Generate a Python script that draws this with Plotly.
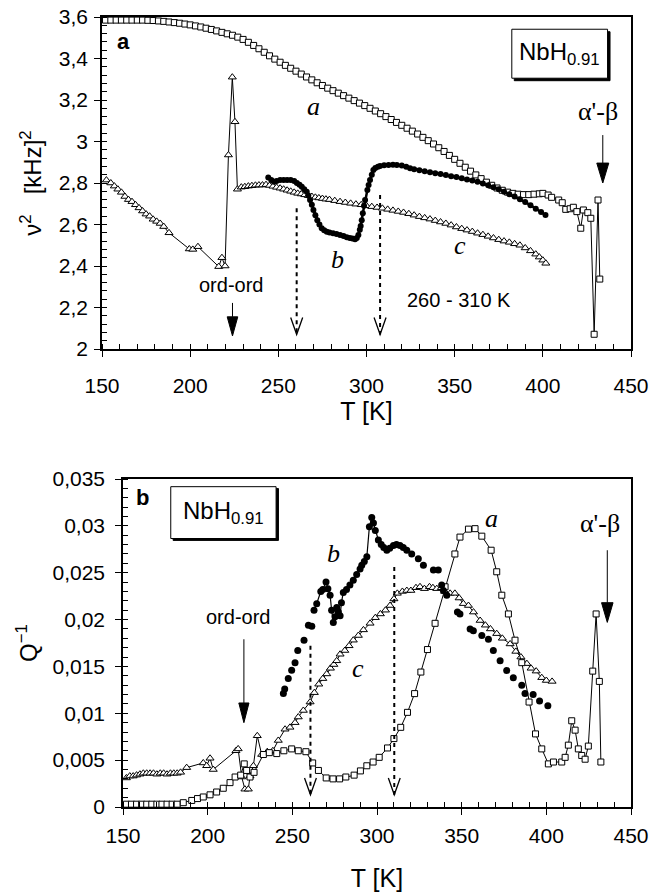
import plotly.graph_objects as go

# ---------------- top panel (v^2) ----------------
top_a_T = [152, 155, 158, 161, 164, 167, 170, 173, 176, 179, 182, 185, 188, 191, 194, 197, 200, 203, 206, 209,
           212, 215, 218, 221, 224, 227, 230, 233, 236, 239, 242, 245, 248, 251, 254, 257, 260, 263, 266, 269,
           272, 275, 278, 281, 284, 287, 290, 293, 296, 299, 302, 305, 308, 311, 314, 317, 320, 323, 326, 329,
           332, 335, 338, 341, 344, 347, 350, 353, 356, 359, 362, 365, 368, 371, 374, 377, 380, 383, 386, 389,
           392, 395, 398, 400, 403, 405, 409, 411, 413, 415.5, 417.3, 419.3, 421.5, 423, 425.5, 427.2, 429.1,
           431.3, 432.3]
top_a_v = [3.585, 3.585, 3.585, 3.585, 3.585, 3.585, 3.585, 3.585, 3.584, 3.583, 3.581, 3.579, 3.576, 3.573,
           3.570, 3.566, 3.562, 3.557, 3.552, 3.546, 3.540, 3.533, 3.526, 3.519, 3.512, 3.503, 3.492, 3.478,
           3.463, 3.447, 3.430, 3.413, 3.397, 3.382, 3.367, 3.353, 3.339, 3.325, 3.311, 3.297, 3.283, 3.270,
           3.257, 3.245, 3.233, 3.221, 3.209, 3.197, 3.185, 3.173, 3.160, 3.147, 3.134, 3.120, 3.106, 3.092,
           3.078, 3.064, 3.050, 3.036, 3.020, 3.004, 2.988, 2.970, 2.952, 2.933, 2.914, 2.895, 2.876, 2.857,
           2.839, 2.821, 2.804, 2.789, 2.776, 2.765, 2.756, 2.750, 2.746, 2.744, 2.744, 2.746, 2.748, 2.750,
           2.742, 2.731, 2.718, 2.705, 2.673, 2.676, 2.683, 2.662, 2.582, 2.670, 2.657, 2.630, 2.071, 2.718,
           2.337]

top_b_T = [244.3, 246, 247.5, 249, 251, 253, 255, 257, 259, 260.5, 262, 263.3, 264.7, 266.1, 267, 268, 269,
           269.9, 271, 272.1, 273.3, 274.6, 276, 277.5, 279, 281, 283, 285, 287, 288.8, 290.5, 292, 293.5,
           294.5, 295.4, 296.2, 296.7, 297.3, 297.9, 298.6, 299.2, 300.5, 301.2, 302, 303, 303.9, 305, 306.5,
           307.7, 310, 312.5, 315, 317.2, 320, 322.5, 324.7, 327, 330, 333, 336, 339, 342, 345, 348, 351, 354,
           357, 360, 363, 366, 369, 372, 375, 378, 381, 384, 387, 390, 393, 396, 399, 401.5]
top_b_v = [2.827, 2.815, 2.806, 2.810, 2.814, 2.815, 2.815, 2.814, 2.810, 2.800, 2.792, 2.782, 2.770, 2.758,
           2.740, 2.718, 2.695, 2.670, 2.645, 2.620, 2.600, 2.582, 2.572, 2.565, 2.562, 2.558, 2.554, 2.550,
           2.545, 2.538, 2.535, 2.532, 2.529, 2.535, 2.550, 2.575, 2.593, 2.620, 2.654, 2.690, 2.718, 2.766,
           2.790, 2.814, 2.840, 2.863, 2.872, 2.878, 2.882, 2.885, 2.887, 2.888, 2.887, 2.884, 2.878, 2.871,
           2.866, 2.862, 2.857, 2.852, 2.847, 2.843, 2.838, 2.833, 2.829, 2.823, 2.817, 2.812, 2.806, 2.797,
           2.789, 2.780, 2.770, 2.758, 2.746, 2.735, 2.722, 2.708, 2.693, 2.676, 2.660, 2.646]

top_c_T = [152.5, 155, 157, 159, 161, 163, 165, 167, 169, 171, 173, 175, 177, 179, 181, 183, 185, 188, 199.5,
           201.5, 204.4, 216.2, 218, 219.8, 221.7, 223.9, 225.4, 226.8, 229, 231, 233, 235, 237, 239, 241, 243,
           245, 247, 249, 251, 253, 255, 257, 259, 261, 263, 265, 267, 269, 271, 273, 275, 277, 279, 282, 285,
           288, 291, 294, 297, 300, 303, 306, 309, 312, 315, 318, 321, 324, 327, 330, 333, 336, 339, 342, 345,
           348, 351, 354, 357, 360, 363, 366, 369, 372, 375, 378, 381, 384, 387, 390, 393, 396, 398, 400, 401.7]
top_c_v = [2.814, 2.800, 2.785, 2.770, 2.755, 2.735, 2.720, 2.710, 2.695, 2.680, 2.665, 2.650, 2.640, 2.625,
           2.615, 2.605, 2.590, 2.560, 2.482, 2.480, 2.493, 2.397, 2.440, 2.400, 2.935, 3.310, 3.095, 2.770,
           2.780, 2.782, 2.785, 2.787, 2.789, 2.790, 2.790, 2.792, 2.788, 2.784, 2.779, 2.775, 2.770, 2.765,
           2.760, 2.755, 2.750, 2.747, 2.743, 2.739, 2.735, 2.731, 2.728, 2.725, 2.722, 2.720, 2.715, 2.710,
           2.706, 2.702, 2.698, 2.695, 2.690, 2.686, 2.682, 2.678, 2.673, 2.668, 2.663, 2.658, 2.652, 2.645,
           2.638, 2.632, 2.626, 2.619, 2.612, 2.605, 2.597, 2.588, 2.580, 2.573, 2.566, 2.558, 2.551, 2.543,
           2.535, 2.527, 2.520, 2.514, 2.507, 2.500, 2.487, 2.473, 2.457, 2.443, 2.428, 2.413]

# ---------------- bottom panel (Q^-1) ----------------
bot_a_T = [152, 155, 158, 161, 164, 167, 170, 173, 176, 179, 182, 185.6, 190.6, 194, 197.4, 201.4, 205.3,
           209.2, 213.2, 216.2, 219.5, 221.6, 223, 225, 227.4, 232.9, 236.4, 240.8, 245, 249.6, 253.5, 258,
           262, 265.4, 270, 274, 277.9, 281.6, 286.5, 290.2, 294, 297.7, 301.3, 306.2, 310, 314, 318, 322.2,
           325.9, 329.8, 334.3, 340.2, 346, 349, 354, 357.9, 361.9, 367.4, 370.7, 373.7, 377.6, 381.5, 385.5,
           389.8, 393.6, 397.3, 401.2, 404.2, 409.1, 411.1, 413, 415, 417, 418.9, 420.9, 422.9, 424.8, 427.4,
           429.4, 431.3, 432.2]
bot_a_Q = [0.0003, 0.0003, 0.0003, 0.0003, 0.0003, 0.0003, 0.0003, 0.0003, 0.0003, 0.0003, 0.0003, 0.00046,
           0.0007, 0.0009, 0.00107, 0.0013, 0.0016, 0.002, 0.0026, 0.0032, 0.0034, 0.0046, 0.0039, 0.0032,
           0.0037, 0.0056, 0.0058, 0.0057, 0.006, 0.0062, 0.006, 0.0059, 0.0047, 0.0039, 0.0031, 0.003, 0.003,
           0.0032, 0.0034, 0.00385, 0.0044, 0.0048, 0.0053, 0.0063, 0.0073, 0.0085, 0.0101, 0.0121, 0.0144,
           0.0168, 0.0196, 0.0235, 0.027, 0.0288, 0.02965, 0.0297, 0.0289, 0.0274, 0.0251, 0.0226, 0.0206,
           0.0178, 0.0154, 0.0112, 0.0078, 0.0062, 0.0046, 0.0048, 0.0048, 0.0053, 0.0066, 0.0092, 0.0082,
           0.0062, 0.0055, 0.0051, 0.0065, 0.0145, 0.0206, 0.0134, 0.0048]

bot_b_T = [244.7, 245.5, 247.6, 249.6, 251.6, 253.2, 256.9, 259.5, 261.5, 262.8, 264.4, 266.8, 268, 269.9,
           271, 272.3, 273.2, 274.2, 275.2, 276.2, 277.2, 278.2, 279, 280.1, 282, 284, 286, 288, 290, 291,
           292.5, 294, 295.5, 296.9, 297.9, 299, 300.8, 302.5, 304, 305.8, 307.5, 309.7, 311.5, 313.6, 315.5,
           317.6, 320.5, 324.4, 327.4, 333.3, 336.2, 338.2, 339.2, 341.2, 347.5, 349, 355, 356.9, 361.9, 365.8,
           368.7, 372.7, 376.6, 380.5, 385.5, 387.4, 392.2, 396, 400.9]
bot_b_Q = [0.0121, 0.0126, 0.0137, 0.0146, 0.0154, 0.0167, 0.0178, 0.0194, 0.0193, 0.021, 0.0217, 0.023,
           0.0232, 0.024, 0.0233, 0.0226, 0.021, 0.0197, 0.0203, 0.0213, 0.0208, 0.0204, 0.0218, 0.0229,
           0.0232, 0.0237, 0.0242, 0.0248, 0.0254, 0.0258, 0.0262, 0.0267, 0.0299, 0.0309, 0.0303, 0.0295,
           0.0285, 0.028, 0.0277, 0.0274, 0.0276, 0.0279, 0.028, 0.0279, 0.0277, 0.0274, 0.027, 0.0265, 0.0258,
           0.0253, 0.0253, 0.0237, 0.0231, 0.0226, 0.0208, 0.0206, 0.019, 0.0188, 0.0183, 0.0179, 0.0167,
           0.0156, 0.01456, 0.0138, 0.013, 0.0121, 0.012, 0.0113, 0.0108]

bot_c_T = [152, 154, 156, 158, 160, 162, 164, 166, 168, 170, 172, 174, 176, 178, 180, 182, 184, 187.6, 197.4,
           199.4, 201.4, 203.3, 216.7, 218, 220.1, 222, 224, 225, 227, 229.3, 231.9, 235.2, 238.5, 241.7,
           245.7, 248.6, 251.6, 253.5, 256.5, 260.5, 263, 265.6, 268, 270.3, 272.5, 274.5, 276.2, 278.2, 281,
           283.5, 286, 289, 292, 295.9, 299, 302, 305, 307.7, 310, 312, 315, 317.6, 320, 323, 325.4, 328, 331,
           333, 335.3, 338, 340, 343.2, 346, 348.5, 351, 354, 357, 360.9, 364, 367, 370.7, 374, 378.6, 382,
           385, 388.5, 391, 394, 397.3, 400, 403.4]
bot_c_Q = [0.0031, 0.0033, 0.0033, 0.0034, 0.0035, 0.0036, 0.0036, 0.0036, 0.0036, 0.0035, 0.0036, 0.0036,
           0.0035, 0.0036, 0.0036, 0.0036, 0.0037, 0.0042, 0.0047, 0.0044, 0.0052, 0.004, 0.006, 0.0062,
           0.0032, 0.0019, 0.0019, 0.0033, 0.0044, 0.0076, 0.0056, 0.0059, 0.006, 0.0071, 0.0083, 0.0085,
           0.009, 0.0096, 0.0103, 0.0112, 0.0122, 0.0131, 0.0137, 0.0142, 0.0148, 0.0152, 0.0156, 0.0163,
           0.0167, 0.0172, 0.0178, 0.0183, 0.0189, 0.0196, 0.0202, 0.0206, 0.021, 0.0215, 0.0222, 0.0228,
           0.023, 0.0231, 0.0231, 0.0234, 0.0235, 0.0233, 0.0235, 0.0234, 0.0233, 0.0234, 0.023, 0.0228,
           0.0228, 0.0223, 0.0217, 0.0215, 0.0208, 0.0199, 0.0194, 0.019, 0.0185, 0.018, 0.0174, 0.0166,
           0.016, 0.0153, 0.0148, 0.0145, 0.0138, 0.0135, 0.0134]

x_ticks = [150, 200, 250, 300, 350, 400, 450]
top_y_ticks = [2, 2.2, 2.4, 2.6, 2.8, 3, 3.2, 3.4, 3.6]
top_y_text = ["2", "2,2", "2,4", "2,6", "2,8", "3", "3,2", "3,4", "3,6"]
bot_y_ticks = [0, 0.005, 0.01, 0.015, 0.02, 0.025, 0.03, 0.035]
bot_y_text = ["0", "0,005", "0,01", "0,015", "0,02", "0,025", "0,03", "0,035"]

SANS = "Liberation Sans, Arial, sans-serif"
SERIF = "Liberation Serif, Times New Roman, serif"
BLK = "black"

fig = go.Figure()

sq = dict(symbol="square", size=6, color="white", line=dict(color=BLK, width=1))
tri = dict(symbol="triangle-up", size=7, color="white", line=dict(color=BLK, width=1))

fig.add_trace(go.Scatter(x=top_c_T, y=top_c_v, mode="lines+markers", line=dict(color=BLK, width=1),
                         marker=tri, xaxis="x", yaxis="y", showlegend=False))
fig.add_trace(go.Scatter(x=top_a_T, y=top_a_v, mode="lines+markers", line=dict(color=BLK, width=1),
                         marker=sq, xaxis="x", yaxis="y", showlegend=False))
fig.add_trace(go.Scatter(x=top_b_T, y=top_b_v, mode="lines+markers", line=dict(color=BLK, width=2.5),
                         marker=dict(symbol="circle", size=6, color=BLK), xaxis="x", yaxis="y",
                         showlegend=False))

fig.add_trace(go.Scatter(x=bot_c_T, y=bot_c_Q, mode="lines+markers", line=dict(color=BLK, width=1),
                         marker=tri, xaxis="x2", yaxis="y2", showlegend=False))
fig.add_trace(go.Scatter(x=bot_a_T, y=bot_a_Q, mode="lines+markers", line=dict(color=BLK, width=1),
                         marker=sq, xaxis="x2", yaxis="y2", showlegend=False))
seg_T = [t for t in bot_b_T if 262 <= t <= 318]
seg_Q = [q for t, q in zip(bot_b_T, bot_b_Q) if 262 <= t <= 318]
fig.add_trace(go.Scatter(x=seg_T, y=seg_Q, mode="lines", line=dict(color=BLK, width=1.2),
                         xaxis="x2", yaxis="y2", showlegend=False))
fig.add_trace(go.Scatter(x=bot_b_T, y=bot_b_Q, mode="markers",
                         marker=dict(symbol="circle", size=7, color=BLK), xaxis="x2", yaxis="y2",
                         showlegend=False))

W, H = 651, 892

def xdom(l, r):
    return [l / W, r / W]

def ydom(top, bottom):
    return [(H - bottom) / H, (H - top) / H]

axis_common = dict(showline=True, linecolor=BLK, linewidth=1.5, mirror=True, showgrid=False,
                   zeroline=False, ticks="outside", ticklen=6, tickwidth=1, tickcolor=BLK,
                   automargin=False,
                   tickfont=dict(family=SANS, size=21, color=BLK))

def title(s, standoff, size=25):
    return dict(text=s, standoff=standoff, font=dict(family=SANS, size=size, color=BLK))

fig.update_layout(
    width=W, height=H, margin=dict(l=0, r=0, t=0, b=0, autoexpand=False),
    paper_bgcolor="white", plot_bgcolor="white", showlegend=False,
    xaxis=dict(domain=xdom(102, 631), range=[150, 450], anchor="y", tickvals=x_ticks,
               ticklabelstandoff=11, title=title("T [K]", 6),
               minor=dict(dtick=10, tick0=150, ticks="inside", ticklen=5, tickcolor=BLK),
               **axis_common),
    yaxis=dict(domain=ydom(17, 349), range=[2, 3.6], anchor="x", tickvals=top_y_ticks,
               ticktext=top_y_text, ticklabelstandoff=2,
               title=title("ν<sup>2</sup>\u00a0\u00a0\u00a0[kHz]<sup>2</sup>", 10, 24),
               minor=dict(dtick=0.04, tick0=2, ticks="inside", ticklen=5, tickcolor=BLK),
               **axis_common),
    xaxis2=dict(domain=xdom(123, 631), range=[150, 450], anchor="y2", tickvals=x_ticks,
                ticklabelstandoff=3, title=title("T [K]", 26),
                minor=dict(dtick=10, tick0=150, ticks="inside", ticklen=5, tickcolor=BLK),
                **axis_common),
    yaxis2=dict(domain=ydom(479, 807), range=[0, 0.035], anchor="x2", tickvals=bot_y_ticks,
                ticktext=bot_y_text, ticklabelstandoff=6,
                title=title("Q<sup>−1</sup>", 8, 24),
                minor=dict(dtick=0.001, tick0=0, ticks="inside", ticklen=5, tickcolor=BLK),
                **axis_common),
)

ann = []
def text(x, y, s, xref, yref, size=20, family=SANS, **kw):
    ann.append(dict(x=x, y=y, xref=xref, yref=yref, text=s, showarrow=False,
                    font=dict(family=family, size=size, color=BLK), **kw))

# top panel labels
text(162, 3.48, "<b>a</b>", "x", "y", size=22)
text(270, 3.17, "<i>a</i>", "x", "y", size=26, family=SERIF)
text(283.6, 2.43, "<i>b</i>", "x", "y", size=26, family=SERIF)
text(353, 2.50, "<i>c</i>", "x", "y", size=26, family=SERIF)
text(223, 2.308, "ord-ord", "x", "y", size=20)
text(352.6, 2.236, "260 - 310 K", "x", "y", size=20)
text(431.5, 3.144, "α'-β", "x", "y", size=26, family=SERIF)
text(409.5, 3.423, "NbH<sub>0.91</sub>", "x", "y", size=24)

# bottom panel labels
text(161.8, 0.033, "<b>b</b>", "x2", "y2", size=22)
text(209.3, 0.0314, "NbH<sub>0.91</sub>", "x2", "y2", size=24)
text(218, 0.0203, "ord-ord", "x2", "y2", size=20)
text(431.8, 0.0303, "α'-β", "x2", "y2", size=26, family=SERIF)
text(367.8, 0.0308, "<i>a</i>", "x2", "y2", size=26, family=SERIF)
text(274.2, 0.027, "<i>b</i>", "x2", "y2", size=26, family=SERIF)
text(288.5, 0.0148, "<i>c</i>", "x2", "y2", size=26, family=SERIF)

fig.update_layout(annotations=ann)

shapes = []
def box(x0, x1, y0, y1, xref, yref, dx, dy):
    shapes.append(dict(type="rect", xref=xref, yref=yref, x0=x0 + dx, x1=x1 + dx, y0=y0 - dy, y1=y1 - dy,
                       fillcolor=BLK, line=dict(color=BLK, width=1)))
    shapes.append(dict(type="rect", xref=xref, yref=yref, x0=x0, x1=x1, y0=y0, y1=y1,
                       fillcolor="white", line=dict(color=BLK, width=1)))

def dotted(x, y0, y1, xref, yref, hw, hh):
    shapes.append(dict(type="line", xref=xref, yref=yref, x0=x, x1=x, y0=y0, y1=y1,
                       line=dict(color=BLK, width=2, dash="4px,4px")))
    shapes.append(dict(type="path", xref=xref, yref=yref,
                       path=f"M {x - hw} {y1 + hh} L {x} {y1} L {x + hw} {y1 + hh}",
                       line=dict(color=BLK, width=1.3)))

def solid_arrow(x, y_tail, y_tip, xref, yref, hw, hh):
    shapes.append(dict(type="line", xref=xref, yref=yref, x0=x, x1=x, y0=y_tail, y1=y_tip + hh,
                       line=dict(color=BLK, width=1)))
    shapes.append(dict(type="path", xref=xref, yref=yref,
                       path=f"M {x - hw} {y_tip + hh} L {x} {y_tip} L {x + hw} {y_tip + hh} Z",
                       fillcolor=BLK, line=dict(color=BLK, width=1)))

box(382.4, 436.7, 3.305, 3.541, "x", "y", 1.4, 0.012)
box(178.2, 240.4, 0.02865, 0.03418, "x2", "y2", 1.4, 0.0002)
dotted(260.4, 2.678, 2.07, "x", "y", 3.4, 0.082)
dotted(307.7, 2.742, 2.07, "x", "y", 3.4, 0.082)
dotted(260.7, 0.0172, 0.0013, "x2", "y2", 3.5, 0.0018)
dotted(310.2, 0.0256, 0.0013, "x2", "y2", 3.5, 0.0018)
solid_arrow(224, 2.222, 2.063, "x", "y", 3.0, 0.092)
solid_arrow(434, 3.031, 2.80, "x", "y", 3.4, 0.096)
solid_arrow(221.4, 0.0179, 0.009, "x2", "y2", 3.0, 0.0021)
solid_arrow(436, 0.0274, 0.0197, "x2", "y2", 3.4, 0.0021)

fig.update_layout(shapes=shapes)

fig.write_html("out.html", config={"displayModeBar": False},
               post_script="document.body.style.margin='0px';")
